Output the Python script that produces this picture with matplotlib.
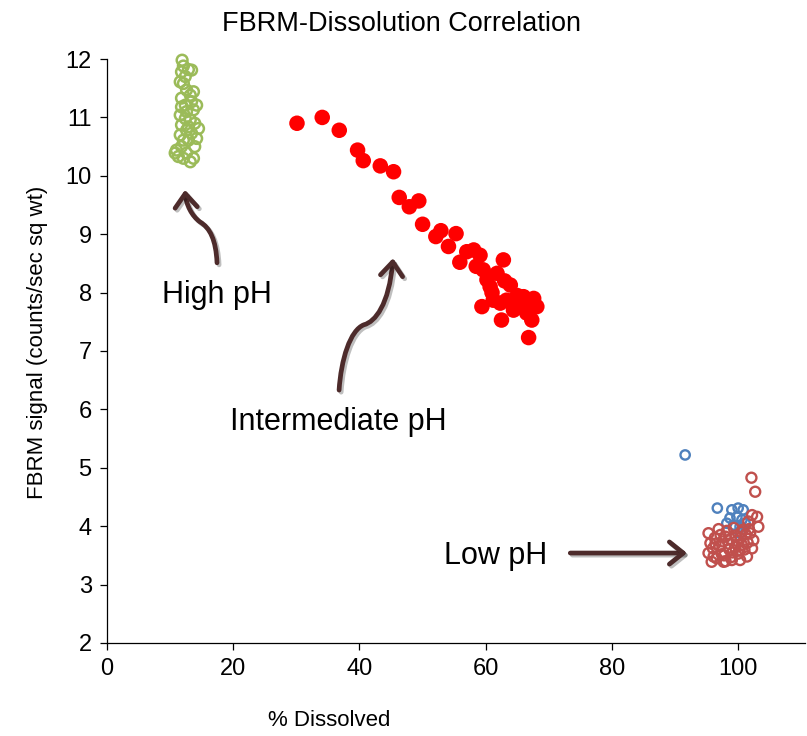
import matplotlib
matplotlib.use("Agg")
import matplotlib.pyplot as plt
from matplotlib.patches import FancyArrowPatch
from matplotlib.path import Path
import matplotlib.patheffects as pe

# high pH (open green circles)
high_x = [11.9, 12.1, 12.9, 13.4, 11.8, 12.4, 11.6, 12.1, 13.7, 13.2, 11.8, 13.4, 14.2,
          11.8, 13.7, 12.6, 11.6, 12.4, 13.2, 13.9, 11.8, 14.5, 12.6, 13.4, 11.6, 14.2,
          12.1, 12.9, 13.9, 11.8, 11.0, 12.6, 10.8, 11.3, 12.1, 13.7, 13.2, 12.6, 12.4, 12.9]
high_y = [11.98, 11.88, 11.82, 11.81, 11.78, 11.70, 11.61, 11.58, 11.44, 11.38, 11.33, 11.27, 11.21,
          11.18, 11.13, 11.10, 11.04, 10.98, 10.96, 10.90, 10.87, 10.81, 10.78, 10.73, 10.70, 10.64,
          10.61, 10.61, 10.50, 10.50, 10.44, 10.39, 10.39, 10.33, 10.30, 10.30, 10.24, 11.47, 11.21, 10.84]

# intermediate pH (filled red)
mid_x = [30.1, 34.1, 36.8, 39.7, 40.6, 43.3, 45.4, 46.3, 47.9, 49.4, 50.0, 52.1, 52.9,
         55.3, 54.1, 55.9, 57.0, 58.1, 59.1, 59.6, 62.8, 60.2, 61.8, 60.7, 63.9, 59.4,
         62.3, 62.5, 64.4, 66.0, 67.6, 68.1, 66.5, 67.3, 66.8, 64.4, 65.4, 63.3, 61.2,
         58.5, 61.0, 63.0, 65.0, 66.5]
mid_y = [10.90, 11.00, 10.78, 10.44, 10.26, 10.17, 10.07, 9.63, 9.47, 9.57, 9.17, 8.96, 9.06,
         9.01, 8.79, 8.52, 8.70, 8.73, 8.64, 8.39, 8.56, 8.22, 8.33, 8.10, 8.13, 7.76,
         7.82, 7.53, 7.87, 7.93, 7.90, 7.76, 7.65, 7.53, 7.23, 7.70, 7.76, 7.87, 7.87,
         8.45, 8.00, 8.20, 7.95, 7.85]

# low pH, two series
low_blue_x = [91.6, 96.7, 99.0, 100.0, 100.8, 98.7, 99.8, 100.6, 99.3, 100.3, 101.1, 98.2, 100.3]
low_blue_y = [5.22, 4.31, 4.28, 4.31, 4.28, 4.14, 4.16, 4.11, 4.02, 3.99, 4.05, 4.05, 3.88]

low_red_x = [102.1, 102.7, 102.2, 103.0, 103.2, 101.6, 102.4, 101.9, 102.2,
             95.8, 96.1, 97.7, 99.0, 100.3, 101.4, 95.3, 95.6, 95.3,
             96.3, 97.2, 98.0, 98.8, 99.6, 100.4, 101.2, 96.0, 97.0, 98.5, 99.5,
             100.6, 101.5, 97.4, 99.1, 100.2, 96.6, 97.8, 98.9, 100.0, 101.0,
             96.9, 98.2, 99.3, 100.8, 97.5, 98.6, 99.8, 101.7, 96.4, 98.0, 100.5]
low_red_y = [4.83, 4.59, 4.19, 4.16, 3.99, 4.08, 3.76, 3.88, 3.62,
             3.39, 3.48, 3.39, 3.42, 3.42, 3.48, 3.88, 3.71, 3.54,
             3.80, 3.85, 3.82, 3.78, 3.84, 3.80, 3.86, 3.62, 3.66, 3.70, 3.64,
             3.68, 3.72, 3.52, 3.55, 3.58, 3.45, 3.50, 3.47, 3.53, 3.60,
             3.95, 3.92, 3.97, 3.94, 3.74, 3.60, 3.75, 3.95, 3.70, 3.40, 3.90]

arrow_col = "#4d2b2b"
regular = ["Liberation Sans", "DejaVu Sans"]

fig = plt.figure(figsize=(8.07, 7.36), dpi=100)
ax = fig.add_axes([0.1326, 0.1264, 0.865, 0.7934])

ax.scatter(high_x, high_y, s=60, facecolors="none", edgecolors="#9bbb59", linewidths=1.8,
           zorder=3, clip_on=False)
ax.scatter(mid_x, mid_y, s=125, color="#ff0000", edgecolors="none", zorder=3)
ax.scatter(low_blue_x, low_blue_y, s=45, facecolors="none", edgecolors="#4f81bd", linewidths=1.7, zorder=3)
ax.scatter(low_red_x, low_red_y, s=52, facecolors="none", edgecolors="#c0504d", linewidths=1.7, zorder=4)

ax.set_xlim(0, 110.6)
ax.set_ylim(2, 12)
ax.set_xticks([0, 20, 40, 60, 80, 100])
ax.set_yticks(range(2, 13))
ax.spines["top"].set_visible(False)
ax.spines["right"].set_visible(False)
for sp in ("left", "bottom"):
    ax.spines[sp].set_linewidth(0.9)
ax.tick_params(direction="out", length=5, width=0.9, pad=6)
for lab in ax.get_xticklabels() + ax.get_yticklabels():
    lab.set_family(regular)
    lab.set_fontsize(17)

ax.set_xlabel("% Dissolved", family=regular, fontsize=16)
ax.xaxis.set_label_coords(0.318, -0.115)
ax.set_ylabel("FBRM signal (counts/sec sq wt)", family=regular, fontsize=16)
ax.yaxis.set_label_coords(-0.085, 0.515)
fig.text(0.498, 0.968, "FBRM-Dissolution Correlation", family=regular, fontsize=19.5,
         ha="center", va="center")

ax.text(17.4, 7.96, "High pH", family=regular, fontsize=22, ha="center", va="center")
ax.text(36.6, 5.78, "Intermediate pH", family=regular, fontsize=22, ha="center", va="center")
ax.text(61.5, 3.49, "Low pH", family=regular, fontsize=22, ha="center", va="center")

shadow = [pe.SimpleLineShadow(offset=(1.5, -1.5), alpha=0.25), pe.Normal()]
head = "->,head_length=0.5,head_width=0.4"
arrow_paths = [
    [(17.43, 8.51), (17.27, 8.90), (16.32, 9.11), (14.74, 9.21),
     (13.47, 9.31), (12.52, 9.50), (12.36, 9.76)],
    [(36.77, 6.33), (37.08, 6.85), (38.51, 7.36), (40.73, 7.45),
     (42.47, 7.50), (44.69, 7.79), (45.32, 8.59)],
]
for pts in arrow_paths:
    codes = [Path.MOVETO] + [Path.CURVE4] * 6
    arr = FancyArrowPatch(path=Path(pts, codes), arrowstyle=head, mutation_scale=20,
                          color=arrow_col, lw=3.4, capstyle="round", joinstyle="round",
                          path_effects=shadow, zorder=5)
    ax.add_patch(arr)
ax.add_patch(FancyArrowPatch((73.4, 3.54), (91.9, 3.54), arrowstyle=head, mutation_scale=20,
                             shrinkA=0, shrinkB=0, color=arrow_col, lw=3.4,
                             capstyle="round", joinstyle="round",
                             path_effects=shadow, zorder=5))

fig.savefig("out.png", dpi=100)
